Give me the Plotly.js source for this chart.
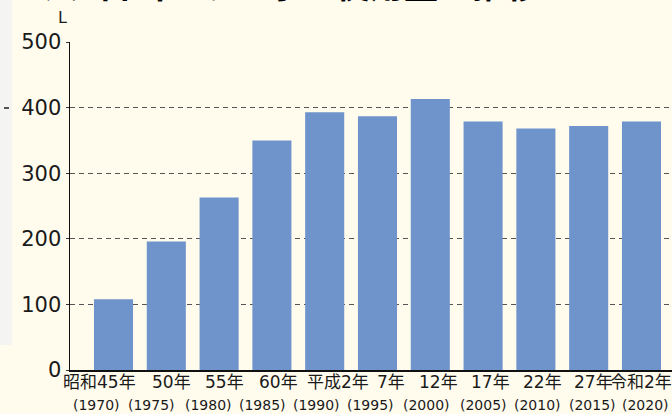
<!DOCTYPE html>
<html>
<head>
<meta charset="utf-8">
<script src="https://cdn.plot.ly/plotly-3.0.1.min.js"></script>
<style>html,body{margin:0;padding:0;background:#fffcee;}#chart{width:672px;height:414px;}</style>
</head>
<body>
<div id="chart"></div>
<script>
const categories = ['昭和45年','50年','55年','60年','平成2年','7年','12年','17年','22年','27年','令和2年'];
const years = ['1970','1975','1980','1985','1990','1995','2000','2005','2010','2015','2020'];
const values = [108,196,263,350,393,387,413,379,368,372,379];
const yTicks = [0,100,200,300,400,500];
const unitLabel = 'L';
const titleText = '1人1日当たりの水の使用量の推移';

const PL = 70, PT = 42, PB = 44, W = 672, H = 414;
const plotW = W - PL, plotH = H - PT - PB;
const px2x = p => (p - PL) / plotW;
const px2y = p => (H - PB - p) / plotH;

// horizontal nudges (px) of the two label lines, mimicking the reference placement
const shift1 = [-14, 5.5, 5.5, 7, 13, 13.5, 8, 7, 7, 4.5, 0];
const shift2 = [-17, -15, -11, -9, -8, -7, -4, 0, 1.5, 3.5, 4];
const fontFam = 'DejaVu Sans, "Noto Sans CJK JP", sans-serif';

const trace = {
  type: 'bar',
  x: categories,
  y: values,
  marker: {color: '#6f93cb'},
  hoverinfo: 'none'
};

const labelAnns = [];
categories.forEach((c, i) => {
  labelAnns.push({text: c, xref: 'x', yref: 'paper', x: c, y: px2y(382), xshift: shift1[i],
    xanchor: 'center', yanchor: 'middle', showarrow: false,
    font: {size: 17, family: fontFam, color: '#1a1a1a'}});
  labelAnns.push({text: '(' + years[i] + ')', xref: 'x', yref: 'paper', x: c, y: px2y(405), xshift: shift2[i],
    xanchor: 'center', yanchor: 'middle', showarrow: false,
    font: {size: 14, family: fontFam, color: '#1a1a1a'}});
});

const layout = {
  width: W, height: H,
  margin: {l: PL, r: 0, t: PT, b: PB, pad: 0},
  paper_bgcolor: '#fffcee',
  plot_bgcolor: '#fffcee',
  bargap: 0.26,
  showlegend: false,
  font: {family: fontFam, color: '#1a1a1a'},
  xaxis: {
    type: 'category',
    range: [-0.824, 10.578],
    showticklabels: false,
    ticks: '',
    automargin: false,
    showline: true, linecolor: '#111', linewidth: 1.5,
    showgrid: false, zeroline: false,
    fixedrange: true
  },
  yaxis: {
    range: [0, 500],
    tickvals: yTicks,
    ticktext: yTicks.map(String),
    automargin: false,
    tickfont: {size: 21, family: 'DejaVu Sans, sans-serif', color: '#1a1a1a'},
    ticks: 'outside', ticklen: 3, tickcolor: '#333', tickwidth: 1,
    showline: true, linecolor: '#111', linewidth: 1.5,
    showgrid: true, gridcolor: '#555', gridwidth: 1, griddash: '5px,4px',
    zeroline: false,
    fixedrange: true
  },
  shapes: [
    {type: 'rect', xref: 'paper', yref: 'paper', x0: px2x(0), x1: px2x(12), y0: px2y(345), y1: px2y(0),
     fillcolor: '#f4f4f2', line: {width: 0}, layer: 'below'},
    {type: 'line', xref: 'paper', yref: 'paper', x0: px2x(4), x1: px2x(9), y0: px2y(108), y1: px2y(108),
     line: {color: '#555', width: 2}}
  ],
  annotations: [
    {text: unitLabel, xref: 'paper', yref: 'paper', x: px2x(62), y: px2y(18), xanchor: 'center', yanchor: 'middle',
     showarrow: false, font: {size: 16, family: 'DejaVu Sans, sans-serif', color: '#1a1a1a'}},
    {text: '<b>' + titleText + '</b>', xref: 'paper', yref: 'paper', x: px2x(22), y: px2y(-16.5), xanchor: 'left', yanchor: 'middle',
     showarrow: false, font: {size: 34, family: '"Noto Sans CJK JP", sans-serif', color: '#000'}}
  ].concat(labelAnns)
};

Plotly.newPlot('chart', [trace], layout, {staticPlot: true, displayModeBar: false});
</script>
</body>
</html>
